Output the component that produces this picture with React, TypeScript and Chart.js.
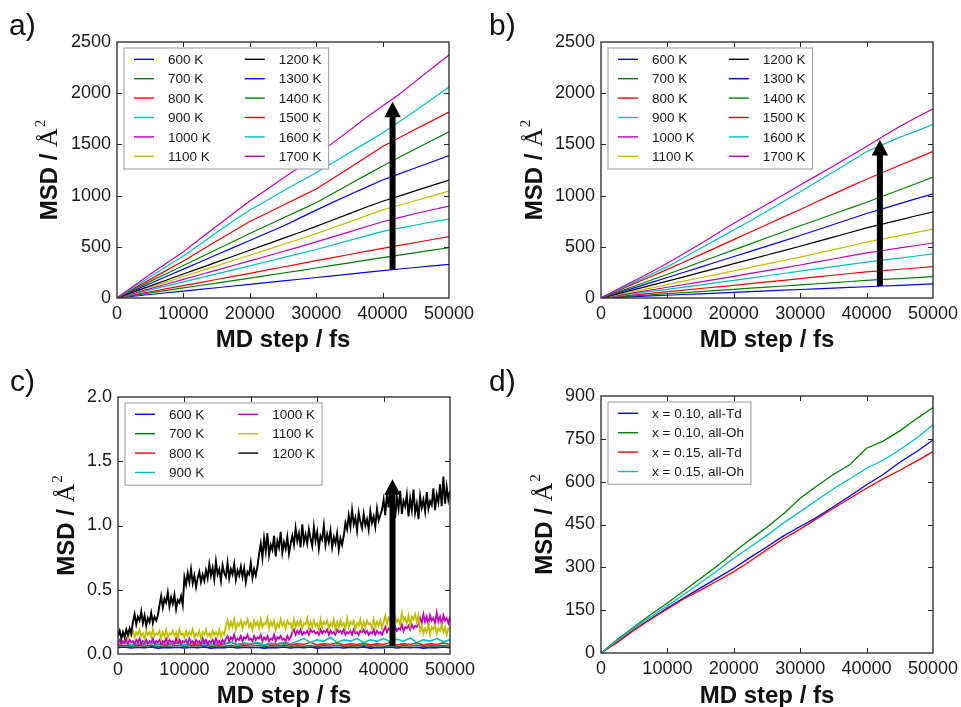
import React, { useEffect, useRef } from "react";
import { Chart, registerables } from "chart.js";
Chart.register(...registerables);

const FONT = "'Liberation Sans', Arial, Helvetica, sans-serif";
const SERIF = "'Liberation Serif', 'DejaVu Serif', 'Times New Roman', serif";

// ---------- categories / labels ----------
const TEMPS = ["600 K", "700 K", "800 K", "900 K", "1000 K", "1100 K", "1200 K", "1300 K", "1400 K", "1500 K", "1600 K", "1700 K"];
const CYCLE = ["#0000ff", "#008000", "#ff0000", "#00bfbf", "#bf00bf", "#bfbf00", "#000000"];
const D_LABELS = ["x = 0.10, all-Td", "x = 0.10, all-Oh", "x = 0.15, all-Td", "x = 0.15, all-Oh"];
const D_COLORS = ["#0000ff", "#008000", "#ff0000", "#00bfbf"];

const X_STEPS = [0, 2500, 5000, 7500, 10000, 12500, 15000, 17500, 20000, 22500, 25000, 27500, 30000, 32500, 35000, 37500, 40000, 42500, 45000, 47500, 50000];
const X_TICKS = [0, 10000, 20000, 30000, 40000, 50000];
const AB_Y_TICKS = [0, 500, 1000, 1500, 2000, 2500];
const C_Y_TICKS = [0, 0.5, 1.0, 1.5, 2.0];
const D_Y_TICKS = [0, 150, 300, 450, 600, 750, 900];

// ---------- panel a ----------
const A_600 = [0, 17, 34, 51, 67, 84, 100, 117, 134, 150, 167, 183, 200, 217, 234, 251, 268, 283, 298, 314, 329];
const A_700 = [0, 25, 50, 74, 98, 122, 146, 170, 195, 219, 244, 268, 293, 318, 343, 369, 395, 419, 443, 467, 491];
const A_800 = [0, 31, 61, 91, 121, 151, 181, 211, 241, 272, 303, 334, 365, 395, 425, 455, 485, 514, 542, 571, 599];
const A_900 = [0, 41, 80, 119, 158, 197, 236, 275, 314, 354, 394, 434, 474, 518, 562, 606, 650, 682, 713, 743, 771];
const A_1000 = [0, 47, 92, 137, 182, 227, 272, 317, 362, 408, 454, 500, 548, 597, 646, 696, 745, 785, 825, 862, 898];
const A_1100 = [0, 54, 106, 158, 210, 262, 314, 366, 418, 470, 522, 574, 628, 686, 744, 802, 860, 906, 952, 998, 1045];
const A_1200 = [0, 60, 118, 176, 234, 292, 350, 408, 466, 524, 582, 640, 700, 762, 824, 886, 945, 995, 1048, 1100, 1152];
const A_1300 = [0, 72, 142, 212, 282, 352, 422, 492, 562, 632, 700, 780, 858, 934, 1008, 1080, 1152, 1212, 1272, 1330, 1390];
const A_1400 = [0, 82, 162, 240, 318, 396, 474, 552, 630, 706, 782, 856, 930, 1020, 1110, 1200, 1290, 1375, 1458, 1540, 1624];
const A_1500 = [0, 92, 182, 272, 362, 460, 556, 652, 748, 826, 905, 985, 1064, 1168, 1270, 1375, 1480, 1565, 1650, 1732, 1815];
const A_1600 = [0, 106, 208, 310, 410, 525, 640, 752, 860, 950, 1045, 1135, 1224, 1320, 1418, 1515, 1612, 1720, 1830, 1945, 2060];
const A_1700 = [0, 118, 232, 342, 452, 578, 700, 825, 947, 1058, 1170, 1280, 1390, 1515, 1635, 1760, 1875, 1990, 2118, 2246, 2373];

// ---------- panel b ----------
const B_600 = [0, 7, 14, 20, 27, 34, 41, 48, 55, 62, 69, 76, 83, 90, 96, 103, 110, 117, 124, 130, 137];
const B_700 = [0, 10, 21, 31, 42, 53, 63, 74, 85, 96, 106, 117, 128, 139, 150, 161, 172, 181, 190, 199, 208];
const B_800 = [0, 15, 31, 46, 62, 77, 93, 108, 124, 140, 157, 173, 190, 206, 222, 239, 255, 268, 281, 293, 306];
const B_900 = [0, 21, 42, 64, 85, 107, 129, 150, 172, 194, 217, 239, 262, 284, 306, 328, 350, 370, 390, 410, 430];
const B_1000 = [0, 26, 52, 78, 105, 132, 158, 185, 212, 240, 267, 295, 322, 352, 381, 411, 440, 464, 489, 513, 537];
const B_1100 = [0, 32, 65, 97, 130, 164, 198, 231, 265, 299, 333, 366, 400, 436, 472, 508, 545, 577, 609, 640, 672];
const B_1200 = [0, 41, 82, 123, 165, 207, 250, 292, 335, 377, 420, 462, 505, 550, 595, 640, 685, 724, 763, 803, 842];
const B_1300 = [0, 49, 99, 150, 200, 251, 302, 354, 405, 456, 507, 558, 610, 664, 718, 771, 825, 873, 921, 970, 1018];
const B_1400 = [0, 57, 115, 173, 232, 291, 351, 410, 470, 529, 588, 647, 705, 762, 820, 878, 935, 996, 1057, 1118, 1180];
const B_1500 = [0, 70, 140, 210, 280, 352, 424, 497, 570, 644, 718, 792, 865, 940, 1014, 1088, 1160, 1228, 1296, 1364, 1432];
const B_1600 = [0, 78, 155, 230, 306, 395, 485, 575, 664, 755, 848, 943, 1038, 1135, 1230, 1330, 1429, 1500, 1570, 1630, 1697];
const B_1700 = [0, 85, 168, 252, 339, 435, 530, 630, 729, 822, 915, 1008, 1104, 1195, 1290, 1385, 1480, 1580, 1675, 1762, 1848];

// ---------- panel c (noisy traces, evenly spaced over 0..50000) ----------
const C_600 = [0.050, 0.054, 0.047, 0.052, 0.049, 0.055, 0.046, 0.051, 0.050, 0.053, 0.047, 0.052, 0.049, 0.055, 0.046, 0.051, 0.050, 0.054, 0.047, 0.052, 0.049, 0.053, 0.046, 0.051, 0.050, 0.055, 0.047, 0.052, 0.049, 0.054, 0.046, 0.051, 0.050, 0.053, 0.047, 0.052, 0.049, 0.055, 0.046, 0.051, 0.050, 0.054, 0.047, 0.052, 0.049, 0.053, 0.046, 0.051, 0.050, 0.054, 0.049];
const C_700 = [0.062, 0.068, 0.058, 0.066, 0.060, 0.070, 0.057, 0.064, 0.061, 0.069, 0.059, 0.065, 0.062, 0.071, 0.058, 0.064, 0.060, 0.068, 0.057, 0.066, 0.061, 0.069, 0.059, 0.064, 0.062, 0.070, 0.058, 0.065, 0.060, 0.067, 0.057, 0.066, 0.061, 0.069, 0.059, 0.064, 0.062, 0.070, 0.058, 0.065, 0.060, 0.068, 0.057, 0.066, 0.061, 0.069, 0.059, 0.064, 0.062, 0.067, 0.060];
const C_800 = [0.075, 0.085, 0.070, 0.080, 0.075, 0.090, 0.070, 0.080, 0.075, 0.085, 0.070, 0.080, 0.075, 0.085, 0.070, 0.080, 0.075, 0.090, 0.070, 0.080, 0.075, 0.085, 0.070, 0.080, 0.075, 0.085, 0.070, 0.080, 0.075, 0.090, 0.070, 0.080, 0.075, 0.085, 0.070, 0.080, 0.075, 0.085, 0.070, 0.080, 0.075, 0.090, 0.070, 0.080, 0.075, 0.085, 0.070, 0.080, 0.075, 0.085, 0.075];
const C_900 = [0.080, 0.090, 0.070, 0.085, 0.080, 0.090, 0.075, 0.085, 0.080, 0.090, 0.070, 0.085, 0.080, 0.090, 0.075, 0.085, 0.080, 0.095, 0.075, 0.085, 0.080, 0.090, 0.070, 0.085, 0.080, 0.090, 0.080,
  0.100, 0.120, 0.090, 0.110, 0.100, 0.130, 0.090, 0.110, 0.100, 0.120, 0.090, 0.110, 0.100, 0.120, 0.095, 0.115, 0.100, 0.125, 0.090, 0.110, 0.100, 0.120, 0.095, 0.110];
const C_1000 = [
  0.09, 0.11, 0.08, 0.10, 0.09, 0.12, 0.08, 0.11, 0.09, 0.10,
  0.08, 0.11, 0.09, 0.12, 0.08, 0.10, 0.09, 0.11, 0.08, 0.10,
  0.09, 0.12, 0.08, 0.10, 0.09, 0.11, 0.08, 0.10, 0.09, 0.12,
  0.08, 0.11, 0.09, 0.10, 0.08, 0.12, 0.09, 0.11, 0.08, 0.10,
  0.09, 0.11, 0.08, 0.12, 0.09, 0.10, 0.08, 0.11, 0.09, 0.10,
  0.08, 0.12, 0.09, 0.11, 0.08, 0.10, 0.09, 0.11, 0.08, 0.12,
  0.09, 0.10, 0.08, 0.11, 0.09,
  0.12, 0.14, 0.10, 0.13, 0.11, 0.15, 0.10, 0.12, 0.11, 0.14,
  0.10, 0.13, 0.12, 0.15, 0.11, 0.12, 0.10, 0.14, 0.11, 0.13,
  0.12, 0.15, 0.10, 0.13, 0.11, 0.14, 0.10, 0.12, 0.11, 0.15,
  0.10, 0.13, 0.12, 0.14, 0.11, 0.12, 0.10, 0.14, 0.11, 0.13,
  0.17, 0.19, 0.15, 0.18, 0.16, 0.19, 0.15, 0.17, 0.16, 0.18,
  0.15, 0.19, 0.17, 0.18, 0.16, 0.17, 0.15, 0.19, 0.16, 0.18,
  0.17, 0.19, 0.15, 0.18, 0.16, 0.17, 0.15, 0.19, 0.17, 0.18,
  0.16, 0.19, 0.15, 0.17, 0.16, 0.18, 0.15, 0.19, 0.16, 0.17,
  0.15, 0.18, 0.17, 0.19, 0.16, 0.18, 0.15, 0.17, 0.16, 0.19,
  0.15, 0.18, 0.16, 0.17, 0.15,
  0.18, 0.21, 0.17, 0.20, 0.19, 0.22, 0.17, 0.21, 0.18, 0.20, 0.19, 0.23, 0.18, 0.21, 0.20, 0.22, 0.19, 0.23, 0.20, 0.22, 0.21, 0.23,
  0.28, 0.24, 0.31, 0.25, 0.29, 0.23, 0.30, 0.26, 0.28, 0.24, 0.32, 0.25, 0.29, 0.23, 0.30, 0.26, 0.28, 0.24, 0.29];
const C_1100 = [
  0.14, 0.18, 0.13, 0.17, 0.15, 0.19, 0.12, 0.16, 0.14, 0.18,
  0.13, 0.17, 0.15, 0.19, 0.14, 0.16, 0.12, 0.18, 0.15, 0.17,
  0.13, 0.19, 0.14, 0.16, 0.15, 0.18, 0.12, 0.17, 0.14, 0.19,
  0.13, 0.16, 0.15, 0.18, 0.14, 0.17, 0.12, 0.19, 0.15, 0.16,
  0.13, 0.18, 0.14, 0.17, 0.15, 0.19, 0.13, 0.16, 0.14, 0.18,
  0.12, 0.17, 0.15, 0.19, 0.14, 0.16, 0.13, 0.18, 0.15, 0.17,
  0.14, 0.19, 0.13, 0.17, 0.15,
  0.22, 0.26, 0.20, 0.25, 0.21, 0.27, 0.19, 0.24, 0.22, 0.26,
  0.20, 0.25, 0.23, 0.27, 0.21, 0.24, 0.19, 0.26, 0.22, 0.25,
  0.20, 0.27, 0.21, 0.24, 0.23, 0.28, 0.20, 0.25, 0.22, 0.26,
  0.19, 0.24, 0.21, 0.27, 0.22, 0.25, 0.20, 0.26, 0.23, 0.24,
  0.19, 0.27, 0.21, 0.25, 0.22, 0.26, 0.20, 0.24, 0.23, 0.28,
  0.20, 0.25, 0.21, 0.26, 0.22, 0.24, 0.19, 0.27, 0.21, 0.25,
  0.23, 0.26, 0.20, 0.24, 0.22, 0.27, 0.19, 0.25, 0.21, 0.26,
  0.22, 0.24, 0.20, 0.28, 0.21, 0.25, 0.23, 0.26, 0.19, 0.24,
  0.22, 0.27, 0.20, 0.25, 0.21, 0.26, 0.23, 0.24, 0.20, 0.27,
  0.21, 0.25, 0.22, 0.26, 0.20,
  0.25, 0.30, 0.23, 0.28, 0.26, 0.31, 0.22, 0.29, 0.25, 0.27, 0.23, 0.32, 0.26, 0.28, 0.24, 0.30, 0.22, 0.29, 0.27, 0.31, 0.25, 0.30,
  0.18, 0.22, 0.16, 0.20, 0.17, 0.23, 0.15, 0.21, 0.19, 0.22, 0.16, 0.20, 0.18, 0.23, 0.17, 0.21, 0.15, 0.20, 0.19];
const C_1200 = [0.14, 0.18, 0.12, 0.17, 0.13, 0.19, 0.15, 0.20, 0.16,
  0.25, 0.31, 0.23, 0.29, 0.26, 0.33, 0.24, 0.30, 0.22, 0.28, 0.25, 0.32, 0.24, 0.29, 0.26, 0.30,
  0.38, 0.45, 0.36, 0.43, 0.40, 0.48, 0.37, 0.44, 0.39, 0.46, 0.35, 0.42, 0.40, 0.45, 0.38,
  0.60, 0.54, 0.63, 0.56, 0.66, 0.55, 0.61, 0.52, 0.59, 0.64, 0.56, 0.62, 0.57,
  0.65, 0.59, 0.70, 0.61, 0.67, 0.58, 0.72, 0.62, 0.66, 0.57, 0.69, 0.63, 0.60, 0.71, 0.59, 0.66, 0.62, 0.70, 0.58, 0.65, 0.61, 0.68, 0.60, 0.67, 0.56, 0.64, 0.62, 0.71, 0.59, 0.66, 0.61, 0.68,
  0.78, 0.86, 0.75, 0.90, 0.80, 0.94, 0.77, 0.85, 0.81, 0.92, 0.76, 0.88, 0.83, 0.95, 0.79, 0.87, 0.82, 0.91, 0.78, 0.86,
  0.92, 0.85, 0.98, 0.88, 0.94, 0.83, 1.01, 0.87, 0.93, 0.86, 0.97, 0.90, 0.84, 0.99, 0.88, 0.95, 0.82, 0.92, 0.89, 1.00, 0.85, 0.93, 0.87, 0.96, 0.83, 0.91, 0.86, 0.94, 0.81, 0.90, 0.85, 0.92,
  1.02, 0.97, 1.08, 0.99, 1.12, 1.01, 1.06, 0.96, 1.10, 1.03, 0.98, 1.09, 1.00, 1.05, 0.97, 1.11, 1.02, 1.07, 0.99, 1.13, 1.04, 1.08,
  1.12, 1.20, 1.08, 1.25, 1.14, 1.30, 1.10, 1.18, 1.06, 1.22, 1.13, 1.27, 1.09, 1.19, 1.15, 1.24, 1.07, 1.21, 1.12, 1.28, 1.10, 1.17, 1.05, 1.23, 1.14, 1.20, 1.11, 1.26, 1.13, 1.19, 1.16, 1.29, 1.12, 1.24, 1.18, 1.32, 1.15, 1.38, 1.17, 1.30, 1.20, 1.27];

// ---------- panel d ----------
const D_010_TD = [0, 40, 82, 120, 157, 193, 228, 262, 297, 335, 372, 410, 443, 475, 512, 550, 589, 625, 668, 705, 746];
const D_010_OH = [0, 48, 92, 135, 175, 218, 262, 305, 353, 398, 440, 488, 542, 585, 625, 660, 717, 742, 778, 820, 860];
const D_015_TD = [0, 38, 80, 118, 154, 190, 220, 252, 285, 322, 362, 400, 434, 470, 507, 542, 577, 610, 640, 672, 705];
const D_015_OH = [0, 45, 88, 127, 165, 205, 246, 288, 332, 372, 412, 455, 495, 535, 575, 610, 647, 675, 712, 752, 799];

// arrows (data units): x, from, to
const A_ARROW = { x: 41500, from: 280, to: 1917 };
const B_ARROW = { x: 42000, from: 117, to: 1543 };
const C_ARROW = { x: 41340, from: 0.062, to: 1.36 };

const onGrid = (ys: number[]) => ys.map((y, i) => ({ x: X_STEPS[i], y }));
const spread = (ys: number[]) => ys.map((y, i) => ({ x: (i * 50000) / (ys.length - 1), y }));

type Series = { label: string; color: string; data: { x: number; y: number }[] };
type Panel = {
  tag: string; left: number; top: number; width: number; height: number;
  area: { l: number; t: number; r: number; b: number };
  yMax: number; yTicks: number[]; yDec: number; series: Series[]; rows: number;
  arrow?: { x: number; from: number; to: number }; yTitleGap: number; xTitlePad: number; widths: number[];
};

const mk = (labels: string[], colors: string[], arrs: { x: number; y: number }[][]): Series[] =>
  arrs.map((d, i) => ({ label: labels[i], color: colors[i % colors.length], data: d }));

const W12 = [1.2, 1.2, 1.2, 1.2, 1.2, 1.2, 1.2, 1.2, 1.2, 1.2, 1.2, 1.2];

const PANELS: Panel[] = [
  {
    tag: "a)", left: 0, top: 0, width: 480, height: 360, area: { l: 117, t: 42, r: 449, b: 298 },
    yMax: 2500, yTicks: AB_Y_TICKS, yDec: 0, rows: 6, arrow: A_ARROW, yTitleGap: 60.5, xTitlePad: 5, widths: W12,
    series: mk(TEMPS, CYCLE, [A_600, A_700, A_800, A_900, A_1000, A_1100, A_1200, A_1300, A_1400, A_1500, A_1600, A_1700].map(onGrid)),
  },
  {
    tag: "b)", left: 480, top: 0, width: 481, height: 360, area: { l: 121, t: 42, r: 453, b: 298 },
    yMax: 2500, yTicks: AB_Y_TICKS, yDec: 0, rows: 6, arrow: B_ARROW, yTitleGap: 59.5, xTitlePad: 5, widths: W12,
    series: mk(TEMPS, CYCLE, [B_600, B_700, B_800, B_900, B_1000, B_1100, B_1200, B_1300, B_1400, B_1500, B_1600, B_1700].map(onGrid)),
  },
  {
    tag: "c)", left: 0, top: 350, width: 480, height: 362, area: { l: 118, t: 47, r: 450, b: 304 },
    yMax: 2, yTicks: C_Y_TICKS, yDec: 1, rows: 4, arrow: C_ARROW, yTitleGap: 44, xTitlePad: 1,
    widths: [1.6, 1.4, 1.4, 1.6, 1.8, 1.8, 1.9],
    series: mk(TEMPS.slice(0, 7), CYCLE, [C_600, C_700, C_800, C_900, C_1000, C_1100, C_1200].map(spread)),
  },
  {
    tag: "d)", left: 480, top: 350, width: 481, height: 362, area: { l: 121, t: 46, r: 453, b: 303 },
    yMax: 900, yTicks: D_Y_TICKS, yDec: 0, rows: 4, yTitleGap: 49.3, xTitlePad: 1, widths: [1.3, 1.3, 1.3, 1.3],
    series: mk(D_LABELS, D_COLORS, [D_010_TD, D_010_OH, D_015_TD, D_015_OH].map(onGrid)),
  },
];

function drawLegend(ctx: CanvasRenderingContext2D, area: any, series: Series[], rows: number) {
  const font = `13.5px ${FONT}`;
  ctx.save();
  ctx.font = font;
  const cols = Math.ceil(series.length / rows);
  const boxL = area.left + 7, boxT = area.top + 6;
  const padL = 10, lineLen = 20, textOff = 34, colGap = 34, padR = 7;
  const firstRow = 11.3, rowH = 19.4, padB = 12.7;
  const colStarts: number[] = [];
  const colWidths: number[] = [];
  let x = boxL + padL;
  for (let c = 0; c < cols; c++) {
    colStarts.push(x);
    let w = 0;
    for (let r = 0; r < rows; r++) {
      const s = series[c * rows + r];
      if (s) w = Math.max(w, ctx.measureText(s.label).width);
    }
    colWidths.push(w);
    x = x + textOff + w + colGap;
  }
  const boxR = colStarts[cols - 1] + textOff + colWidths[cols - 1] + padR;
  const boxB = boxT + firstRow + (rows - 1) * rowH + padB;
  ctx.fillStyle = "#ffffff";
  ctx.fillRect(boxL, boxT, boxR - boxL, boxB - boxT);
  ctx.strokeStyle = "#a8a8a8";
  ctx.lineWidth = 1.2;
  ctx.strokeRect(boxL, boxT, boxR - boxL, boxB - boxT);
  ctx.textBaseline = "middle";
  ctx.textAlign = "left";
  series.forEach((s, i) => {
    const c = Math.floor(i / rows), r = i % rows;
    const cy = boxT + firstRow + r * rowH;
    const lx = colStarts[c];
    ctx.strokeStyle = s.color;
    ctx.lineWidth = 1.4;
    ctx.beginPath();
    ctx.moveTo(lx, cy);
    ctx.lineTo(lx + lineLen, cy);
    ctx.stroke();
    ctx.fillStyle = "#1a1a1a";
    ctx.fillText(s.label, lx + textOff, cy + 1);
  });
  ctx.restore();
}

function PanelChart({ p }: { p: Panel }) {
  const ref = useRef<HTMLCanvasElement>(null);
  useEffect(() => {
    const canvas = ref.current!;
    const overlay = {
      id: "overlay",
      afterDatasetsDraw(chart: any) {
        const ctx: CanvasRenderingContext2D = chart.ctx;
        const a = chart.chartArea;
        const xs = chart.scales.x, ys = chart.scales.y;
        // arrow
        if (p.arrow) {
          const ax = xs.getPixelForValue(p.arrow.x);
          const y0 = ys.getPixelForValue(p.arrow.from);
          const y1 = ys.getPixelForValue(p.arrow.to);
          const headLen = 15.5, headW = 16.5, shaftW = 6;
          ctx.save();
          ctx.fillStyle = "#000";
          ctx.fillRect(ax - shaftW / 2, y1 + headLen - 1, shaftW, y0 - (y1 + headLen - 1));
          ctx.beginPath();
          ctx.moveTo(ax, y1);
          ctx.lineTo(ax - headW / 2, y1 + headLen);
          ctx.lineTo(ax + headW / 2, y1 + headLen);
          ctx.closePath();
          ctx.fill();
          ctx.restore();
        }
        drawLegend(ctx, a, p.series, p.rows);
        // frame + inward ticks
        ctx.save();
        ctx.strokeStyle = "#262626";
        ctx.lineWidth = 1.3;
        ctx.strokeRect(a.left, a.top, a.right - a.left, a.bottom - a.top);
        ctx.lineWidth = 1;
        const tl = 5;
        ctx.beginPath();
        xs.ticks.forEach((t: any) => {
          if (t.value <= xs.min || t.value >= xs.max) return;
          const px = Math.round(xs.getPixelForValue(t.value)) + 0.5;
          ctx.moveTo(px, a.bottom); ctx.lineTo(px, a.bottom - tl);
          ctx.moveTo(px, a.top); ctx.lineTo(px, a.top + tl);
        });
        ys.ticks.forEach((t: any) => {
          if (t.value <= ys.min || t.value >= ys.max) return;
          const py = Math.round(ys.getPixelForValue(t.value)) + 0.5;
          ctx.moveTo(a.left, py); ctx.lineTo(a.left + tl, py);
          ctx.moveTo(a.right, py); ctx.lineTo(a.right - tl, py);
        });
        ctx.stroke();
        ctx.restore();
        // y title: MSD / Å^2
        ctx.save();
        ctx.translate(a.left - p.yTitleGap, (a.top + a.bottom) / 2);
        ctx.rotate(-Math.PI / 2);
        ctx.fillStyle = "#111";
        ctx.textBaseline = "alphabetic";
        ctx.textAlign = "left";
        const f1 = `bold 24px ${FONT}`, f2 = `26px ${SERIF}`, f3 = `15px ${SERIF}`;
        const t1 = "MSD / ", t2 = "Å", t3 = "2";
        ctx.font = f1; const w1 = ctx.measureText(t1).width;
        ctx.font = f2; const w2 = ctx.measureText(t2).width;
        ctx.font = f3; const w3 = ctx.measureText(t3).width;
        let x = -(w1 + w2 + w3 + 1) / 2;
        ctx.font = f1; ctx.fillText(t1, x, 0); x += w1;
        ctx.font = f2; ctx.fillText(t2, x, 0); x += w2 + 1;
        ctx.font = f3; ctx.fillText(t3, x, -12);
        ctx.restore();
      },
    };
    const chart = new Chart(canvas, {
      type: "line",
      data: {
        datasets: p.series.map((s, i) => ({
          label: s.label,
          data: s.data,
          borderColor: s.color,
          backgroundColor: s.color,
          borderWidth: p.widths[i],
          pointRadius: 0,
          fill: false,
          tension: 0,
          order: -i,
        })),
      },
      options: {
        animation: false,
        responsive: false,
        events: [],
        layout: { padding: { left: 0, top: p.area.t, right: p.width - p.area.r, bottom: 0 } },
        plugins: { legend: { display: false }, tooltip: { enabled: false }, title: { display: false } },
        scales: {
          x: {
            type: "linear",
            min: 0,
            max: 50000,
            grid: { display: false, drawTicks: false },
            border: { display: false },
            afterBuildTicks: (s: any) => { s.ticks = X_TICKS.map((v) => ({ value: v })); },
            afterFit: (s: any) => { s.height = p.height - p.area.b; s.paddingLeft = 0; s.paddingRight = 0; },
            ticks: {
              padding: 5,
              maxRotation: 0,
              autoSkip: false,
              color: "#1a1a1a",
              font: { family: FONT, size: 18 },
              callback: (v: any) => String(v),
            },
            title: {
              display: true,
              text: "MD step / fs",
              color: "#111",
              font: { family: FONT, size: 24, weight: "bold" },
              padding: { top: 0, bottom: p.xTitlePad },
            },
          },
          y: {
            type: "linear",
            min: 0,
            max: p.yMax,
            grid: { display: false, drawTicks: false },
            border: { display: false },
            afterBuildTicks: (s: any) => { s.ticks = p.yTicks.map((v) => ({ value: v })); },
            afterFit: (s: any) => { s.width = p.area.l; s.paddingTop = 0; s.paddingBottom = 0; },
            ticks: {
              padding: 6,
              autoSkip: false,
              color: "#1a1a1a",
              font: { family: FONT, size: 18 },
              callback: (v: any) => Number(v).toFixed(p.yDec),
            },
          },
        },
      },
      plugins: [overlay],
    } as any);
    return () => chart.destroy();
  }, [p]);
  return (
    <canvas
      ref={ref}
      width={p.width}
      height={p.height}
      style={{ position: "absolute", left: p.left, top: p.top, width: p.width, height: p.height }}
    />
  );
}

const TAGS = [
  { text: "a)", left: 9, top: 9.6 },
  { text: "b)", left: 489, top: 9.6 },
  { text: "c)", left: 10, top: 366 },
  { text: "d)", left: 489, top: 366 },
];

export default function App() {
  return (
    <div style={{ position: "fixed", left: 0, top: 0, width: 961, height: 707, overflow: "hidden", background: "#fff" }}>
      {PANELS.map((p) => (
        <PanelChart key={p.tag} p={p} />
      ))}
      {TAGS.map((t) => (
        <div
          key={t.text}
          style={{ position: "absolute", left: t.left, top: t.top, fontFamily: FONT, fontSize: 30, lineHeight: "30px", color: "#111" }}
        >
          {t.text}
        </div>
      ))}
    </div>
  );
}
